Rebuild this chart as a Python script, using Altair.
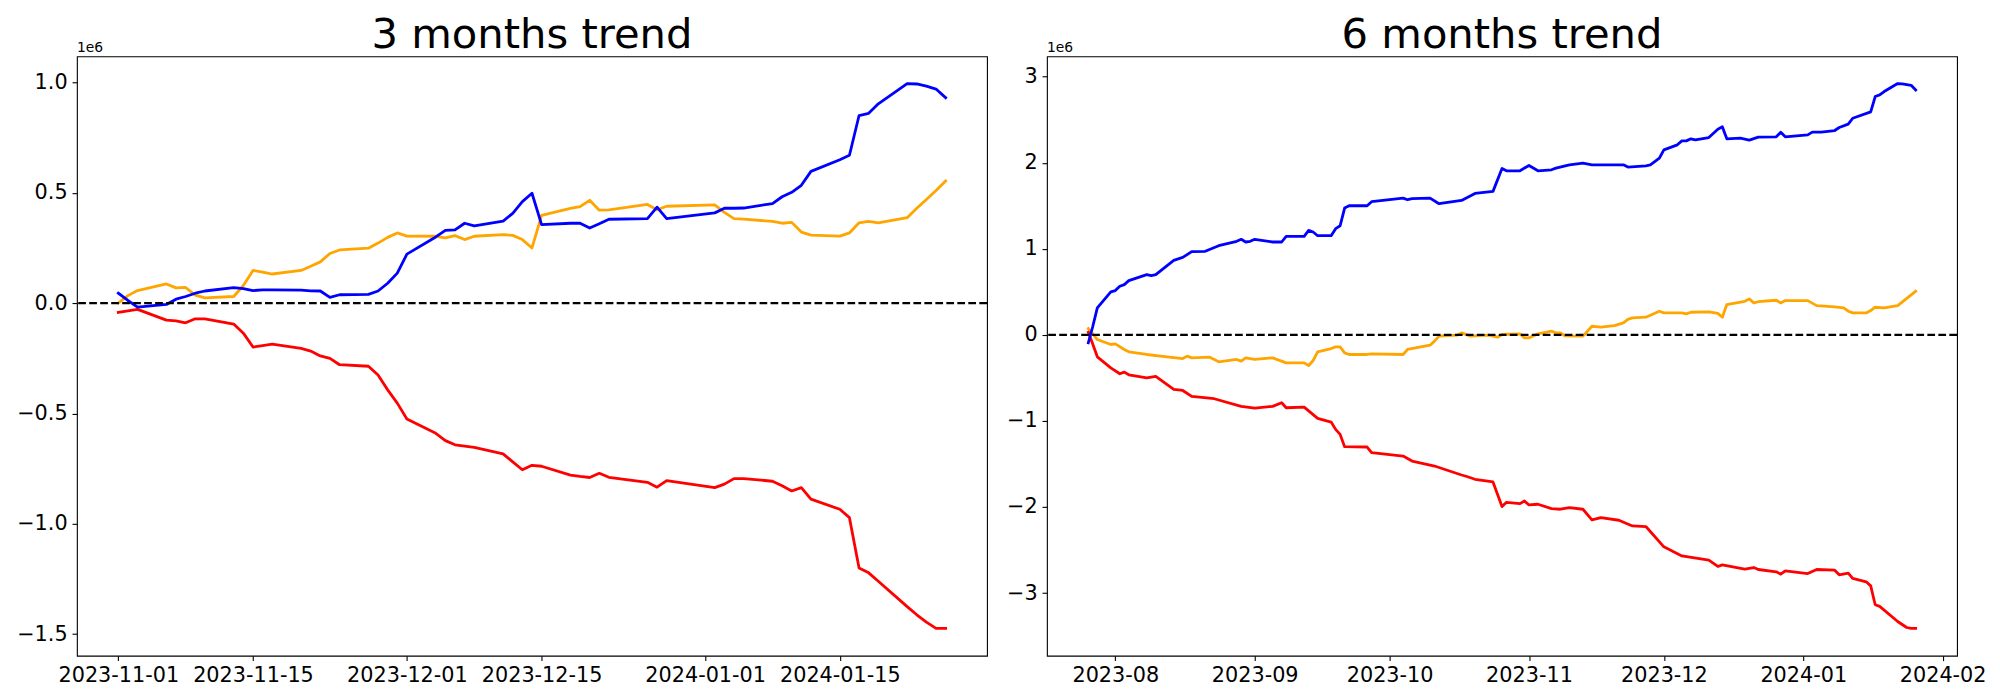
import altair as alt
import pandas as pd

# ---------------- 3 months panel (values in units of 1e6) ----------------
dates_3m = ["2023-11-01","2023-11-02","2023-11-03","2023-11-06","2023-11-07","2023-11-08","2023-11-09","2023-11-10",
            "2023-11-13","2023-11-14","2023-11-15","2023-11-16","2023-11-17","2023-11-20","2023-11-21","2023-11-22",
            "2023-11-23","2023-11-24","2023-11-27","2023-11-28","2023-11-29","2023-11-30",
            "2023-12-01","2023-12-04","2023-12-05","2023-12-06","2023-12-07","2023-12-08","2023-12-11","2023-12-12",
            "2023-12-13","2023-12-14","2023-12-15","2023-12-18","2023-12-19","2023-12-20","2023-12-21","2023-12-22",
            "2023-12-26","2023-12-27","2023-12-28",
            "2024-01-02","2024-01-03","2024-01-04","2024-01-05","2024-01-08","2024-01-09","2024-01-10","2024-01-11",
            "2024-01-12","2024-01-15","2024-01-16","2024-01-17","2024-01-18","2024-01-19","2024-01-22","2024-01-23",
            "2024-01-24","2024-01-25","2024-01-26"]
blue_3m = [0.045, 0.012, -0.018, -0.006, 0.018, 0.030, 0.045, 0.055, 0.070, 0.066, 0.057, 0.060, 0.060, 0.059,
           0.056, 0.055, 0.026, 0.038, 0.040, 0.055, 0.090, 0.136,
           0.222, 0.300, 0.330, 0.332, 0.362, 0.350, 0.372, 0.407, 0.460, 0.498, 0.356, 0.362, 0.362, 0.340,
           0.360, 0.380, 0.383, 0.435, 0.383,
           0.409, 0.430, 0.430, 0.431, 0.451, 0.482, 0.502, 0.534, 0.597, 0.650, 0.670, 0.850, 0.860, 0.903,
           0.995, 0.993, 0.983, 0.970, 0.931]
red_3m = [-0.042, -0.035, -0.028, -0.077, -0.080, -0.089, -0.071, -0.071, -0.095, -0.136, -0.199, -0.192, -0.186,
          -0.205, -0.217, -0.239, -0.250, -0.279, -0.286, -0.326, -0.393, -0.453,
          -0.525, -0.590, -0.623, -0.642, -0.648, -0.654, -0.683, -0.719, -0.755, -0.735, -0.739, -0.779, -0.785,
          -0.790, -0.771, -0.789, -0.812, -0.834, -0.804,
          -0.836, -0.820, -0.795, -0.795, -0.807, -0.827, -0.851, -0.836, -0.888, -0.934, -0.972, -1.200, -1.222,
          -1.260, -1.375, -1.412, -1.445, -1.474, -1.474]
orange_3m = [0.000, 0.034, 0.057, 0.087, 0.069, 0.071, 0.036, 0.024, 0.030, 0.080, 0.148, 0.140, 0.132, 0.148,
             0.167, 0.187, 0.225, 0.241, 0.249, 0.272, 0.298, 0.318,
             0.304, 0.303, 0.296, 0.306, 0.288, 0.303, 0.310, 0.307, 0.288, 0.250, 0.398, 0.429, 0.437, 0.466,
             0.421, 0.423, 0.447, 0.423, 0.439,
             0.445, 0.411, 0.383, 0.381, 0.370, 0.362, 0.366, 0.322, 0.308, 0.304, 0.318, 0.364, 0.370, 0.364,
             0.387, 0.430, 0.470, 0.510, 0.553]

# ---------------- 6 months panel (values in units of 1e6) ----------------
blue_6m_dates = ["2023-07-26","2023-07-27","2023-07-28","2023-07-31","2023-08-01","2023-08-02","2023-08-03","2023-08-04",
                 "2023-08-08","2023-08-09","2023-08-10","2023-08-14","2023-08-16","2023-08-18","2023-08-21","2023-08-24",
                 "2023-08-28","2023-08-29","2023-08-30","2023-08-31","2023-09-01","2023-09-05","2023-09-07","2023-09-08",
                 "2023-09-12","2023-09-13","2023-09-14","2023-09-15","2023-09-18","2023-09-19","2023-09-20","2023-09-21",
                 "2023-09-22","2023-09-26","2023-09-27","2023-10-04","2023-10-05","2023-10-06","2023-10-10","2023-10-12",
                 "2023-10-17","2023-10-20","2023-10-24","2023-10-26","2023-10-27","2023-10-30","2023-11-01","2023-11-03",
                 "2023-11-06","2023-11-07","2023-11-10","2023-11-13","2023-11-15","2023-11-22","2023-11-23","2023-11-27",
                 "2023-11-28","2023-11-30","2023-12-01","2023-12-04","2023-12-05","2023-12-06","2023-12-07","2023-12-08",
                 "2023-12-11","2023-12-13","2023-12-14","2023-12-15","2023-12-18","2023-12-20","2023-12-22","2023-12-26",
                 "2023-12-27","2023-12-28","2024-01-02","2024-01-03","2024-01-05","2024-01-08","2024-01-09","2024-01-11",
                 "2024-01-12","2024-01-16","2024-01-17","2024-01-18","2024-01-19","2024-01-22","2024-01-23","2024-01-25",
                 "2024-01-26"]
blue_6m = [-0.093, 0.100, 0.313, 0.499, 0.514, 0.565, 0.584, 0.630,
           0.700, 0.688, 0.700, 0.866, 0.900, 0.967, 0.971, 1.036,
           1.087, 1.110, 1.079, 1.087, 1.110, 1.079, 1.079, 1.145,
           1.145, 1.214, 1.195, 1.152, 1.152, 1.234, 1.268, 1.473,
           1.500, 1.500, 1.547, 1.589, 1.570, 1.582, 1.589, 1.524,
           1.562, 1.643, 1.667, 1.933, 1.906, 1.906, 1.968, 1.906,
           1.918, 1.937, 1.976, 1.995, 1.976, 1.976, 1.949, 1.964,
           1.976, 2.053, 2.150, 2.208, 2.254, 2.254, 2.278, 2.266,
           2.293, 2.390, 2.417, 2.278, 2.285, 2.262, 2.297, 2.301,
           2.355, 2.301, 2.324, 2.355, 2.355, 2.374, 2.409, 2.448,
           2.517, 2.591, 2.769, 2.788, 2.827, 2.920, 2.916, 2.900,
           2.846]

orange_6m_dates = ["2023-07-26","2023-07-27","2023-07-28","2023-07-31","2023-08-01","2023-08-03","2023-08-04","2023-08-08",
                   "2023-08-11","2023-08-16","2023-08-17","2023-08-18","2023-08-22","2023-08-24","2023-08-28","2023-08-29",
                   "2023-08-30","2023-09-01","2023-09-05","2023-09-08","2023-09-12","2023-09-13","2023-09-14","2023-09-15",
                   "2023-09-18","2023-09-19","2023-09-20","2023-09-21","2023-09-22","2023-09-26","2023-09-27","2023-10-04",
                   "2023-10-05","2023-10-10","2023-10-11","2023-10-12","2023-10-16","2023-10-17","2023-10-19","2023-10-23",
                   "2023-10-25","2023-10-26","2023-10-30","2023-10-31","2023-11-01","2023-11-03","2023-11-06","2023-11-07",
                   "2023-11-08","2023-11-09","2023-11-13","2023-11-15","2023-11-17","2023-11-20","2023-11-22","2023-11-23",
                   "2023-11-24","2023-11-27","2023-11-30","2023-12-01","2023-12-05","2023-12-06","2023-12-07","2023-12-11",
                   "2023-12-13","2023-12-14","2023-12-15","2023-12-19","2023-12-20","2023-12-21","2023-12-22","2023-12-26",
                   "2023-12-27","2023-12-28","2024-01-02","2024-01-04","2024-01-08","2024-01-10","2024-01-11","2024-01-12",
                   "2024-01-15","2024-01-16","2024-01-17","2024-01-19","2024-01-22","2024-01-26"]
orange_6m = [0.073, 0.012, -0.054, -0.112, -0.104, -0.170, -0.197, -0.228,
             -0.247, -0.275, -0.247, -0.267, -0.259, -0.313, -0.286, -0.305,
             -0.267, -0.286, -0.267, -0.325, -0.325, -0.356, -0.298, -0.197,
             -0.159, -0.139, -0.139, -0.209, -0.228, -0.228, -0.220, -0.228,
             -0.170, -0.120, -0.073, -0.015, -0.004, 0.023, -0.015, -0.004,
             -0.027, 0.004, 0.012, -0.035, -0.035, 0.012, 0.043, 0.023,
             0.023, -0.012, -0.015, 0.100, 0.089, 0.108, 0.139, 0.180,
             0.197, 0.205, 0.275, 0.255, 0.255, 0.244, 0.263, 0.267,
             0.250, 0.205, 0.352, 0.390, 0.418, 0.371, 0.385, 0.402,
             0.371, 0.398, 0.398, 0.340, 0.325, 0.313, 0.275, 0.255,
             0.255, 0.282, 0.321, 0.313, 0.340, 0.507]

red_6m_dates = ["2023-07-26","2023-07-27","2023-07-28","2023-07-31","2023-08-02","2023-08-03","2023-08-04","2023-08-08",
                "2023-08-10","2023-08-14","2023-08-16","2023-08-18","2023-08-23","2023-08-29","2023-09-01","2023-09-05",
                "2023-09-07","2023-09-08","2023-09-12","2023-09-15","2023-09-18","2023-09-19","2023-09-20","2023-09-21",
                "2023-09-26","2023-09-27","2023-10-04","2023-10-06","2023-10-11","2023-10-13","2023-10-17","2023-10-18",
                "2023-10-20","2023-10-24","2023-10-25","2023-10-26","2023-10-27","2023-10-30","2023-10-31","2023-11-01",
                "2023-11-03","2023-11-06","2023-11-08","2023-11-10","2023-11-13","2023-11-15","2023-11-17","2023-11-21",
                "2023-11-24","2023-11-27","2023-12-01","2023-12-05","2023-12-11","2023-12-13","2023-12-14","2023-12-19",
                "2023-12-21","2023-12-22","2023-12-26","2023-12-27","2023-12-28","2024-01-02","2024-01-04","2024-01-08",
                "2024-01-09","2024-01-11","2024-01-12","2024-01-15","2024-01-16","2024-01-17","2024-01-18","2024-01-22",
                "2024-01-24","2024-01-25","2024-01-26"]
red_6m = [0.030, -0.110, -0.255, -0.383, -0.452, -0.433, -0.464, -0.499,
          -0.483, -0.634, -0.646, -0.715, -0.742, -0.831, -0.851, -0.831,
          -0.789, -0.847, -0.839, -0.971, -1.013, -1.098, -1.156, -1.299,
          -1.303, -1.369, -1.408, -1.466, -1.524, -1.558, -1.628, -1.643,
          -1.678, -1.709, -1.852, -1.995, -1.945, -1.961, -1.930, -1.976,
          -1.968, -2.019, -2.026, -2.007, -2.026, -2.150, -2.123, -2.154,
          -2.220, -2.227, -2.463, -2.568, -2.618, -2.691, -2.672, -2.722,
          -2.703, -2.726, -2.753, -2.780, -2.742, -2.773, -2.726, -2.734,
          -2.788, -2.769, -2.830, -2.869, -2.916, -3.136, -3.155, -3.330,
          -3.400, -3.411, -3.411]

# ---------------- tick labels ----------------
xticks_3m = ["2023-11-01", "2023-11-15", "2023-12-01", "2023-12-15", "2024-01-01", "2024-01-15"]
xticks_6m = ["2023-08-01", "2023-09-01", "2023-10-01", "2023-11-01", "2023-12-01", "2024-01-01", "2024-02-01"]
yticks_3m = [-1.5, -1.0, -0.5, 0.0, 0.5, 1.0]
yticks_6m = [-3, -2, -1, 0, 1, 2, 3]

COLORS = {"blue": "#0000ff", "red": "#ff0000", "orange": "#ffa500"}
FONT = "DejaVu Sans"
W, H = 911, 600


def ms(s):
    return int(pd.Timestamp(s, tz="UTC").value // 10**6)


def padded(lo, hi, frac=0.05):
    r = hi - lo
    return [lo - frac * r, hi + frac * r]


def panel(series, title, xticks, xfmt, yticks, yfmt):
    all_dates = [ms(d) for s in series.values() for d in s[0]]
    all_vals = [v for s in series.values() for v in s[1]]
    xdom = padded(min(all_dates), max(all_dates))
    ydom = padded(min(all_vals), max(all_vals))

    xenc = alt.X("date:T", title=None,
                 scale=alt.Scale(type="utc", domain=xdom, nice=False),
                 axis=alt.Axis(values=[ms(t) for t in xticks],
                               labelExpr=f"utcFormat(datum.value, '{xfmt}')",
                               labelOverlap=False, labelFlush=False, grid=False))
    yenc = alt.Y("value:Q", title=None,
                 scale=alt.Scale(domain=ydom, nice=False, zero=False),
                 axis=alt.Axis(values=yticks, labelExpr=f"format(datum.value, '{yfmt}')", grid=False))

    layers = []
    for name in ["orange", "red", "blue"]:
        d, v = series[name]
        df = pd.DataFrame({"date": d, "value": v})
        layers.append(alt.Chart(df).mark_line(color=COLORS[name], strokeWidth=2.8, strokeJoin="round",
                                              strokeCap="square")
                      .encode(x=xenc, y=yenc))
    zero = alt.Chart(pd.DataFrame({"value": [0.0]})).mark_rule(
        color="black", strokeDash=[7.7, 3.3], strokeWidth=2.1).encode(y=alt.Y("value:Q"))
    layers.append(zero)
    ttl = alt.Chart(pd.DataFrame({"t": [title]})).mark_text(
        font=FONT, fontSize=41.7, align="center", baseline="alphabetic", color="black"
    ).encode(text="t:N", x=alt.value(W / 2), y=alt.value(-8.5))
    off = alt.Chart(pd.DataFrame({"t": ["1e6"]})).mark_text(
        font=FONT, fontSize=13.9, align="left", baseline="alphabetic", color="black"
    ).encode(text="t:N", x=alt.value(0), y=alt.value(-4))
    layers += [ttl, off]
    return alt.layer(*layers).properties(width=W, height=H)


left = panel({"blue": (dates_3m, blue_3m), "red": (dates_3m, red_3m), "orange": (dates_3m, orange_3m)},
             "3 months trend", xticks_3m, "%Y-%m-%d", yticks_3m, ".1f")
right = panel({"blue": (blue_6m_dates, blue_6m), "red": (red_6m_dates, red_6m),
               "orange": (orange_6m_dates, orange_6m)},
              "6 months trend", xticks_6m, "%Y-%m", yticks_6m, ".0f")

chart = alt.hconcat(left, right, spacing=16).properties(
    padding={"left": 8, "top": 5, "right": 5, "bottom": 5},
    background="white"
).configure_view(stroke="black", strokeWidth=1.1).configure_axis(
    domain=False, grid=False, ticks=True, tickColor="black", tickSize=4.9, tickWidth=1.1,
    labelFont=FONT, labelFontSize=20.8, labelColor="black", labelPadding=4.9
)

chart.save("out.html", embed_options={"renderer": "svg", "actions": False})
